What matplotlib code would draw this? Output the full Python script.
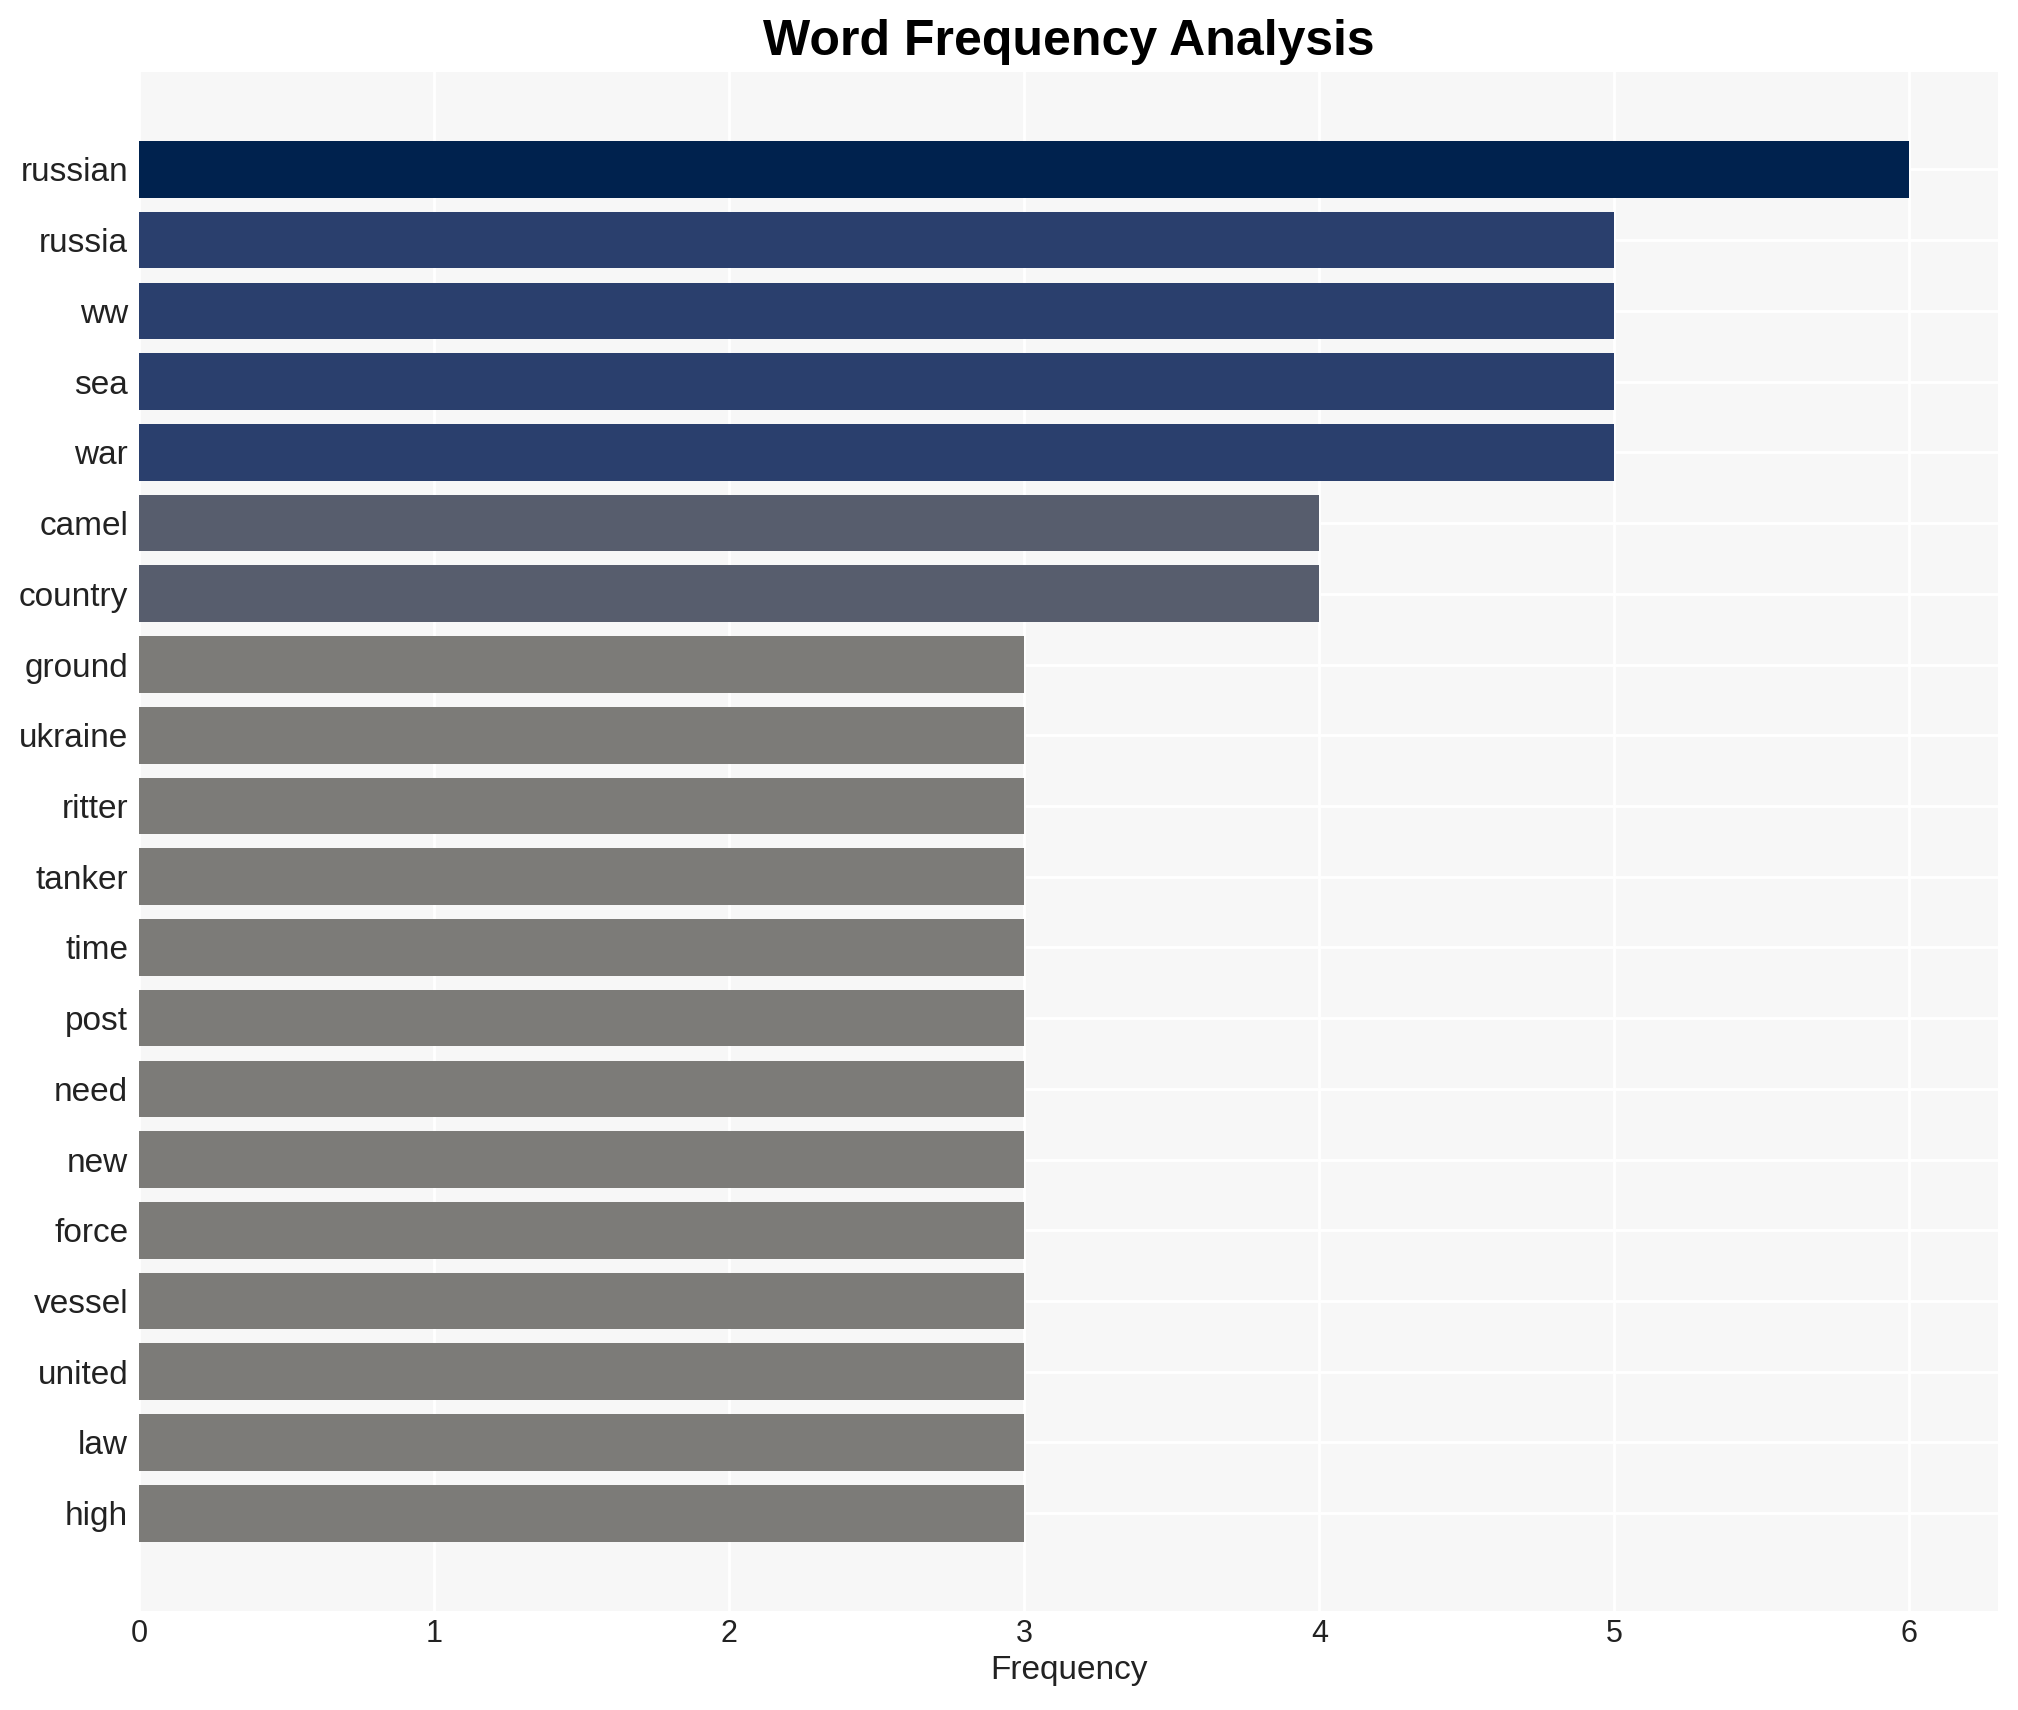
import matplotlib as mpl
mpl.use('agg')
import matplotlib.pyplot as plt
import numpy as np

plt.rc('font', family=['Liberation Sans', 'DejaVu Sans'])

words = ["russian", "russia", "ww", "sea", "war", "camel", "country", "ground",
         "ukraine", "ritter", "tanker", "time", "post", "need", "new", "force",
         "vessel", "united", "law", "high"]
counts = [6, 5, 5, 5, 5, 4, 4, 3, 3, 3, 3, 3, 3, 3, 3, 3, 3, 3, 3, 3]

fig = plt.figure(figsize=(10.09, 8.55), dpi=200)
ax = fig.add_axes([0.069, 0.058, 0.921, 0.900])
ax.set_facecolor('#f7f7f7')

cmax = max(counts)
colors = [plt.cm.cividis_r(c / cmax) for c in counts]
y = np.arange(len(words))
ax.barh(y, counts, height=0.8, color=colors, zorder=2)

ax.set_yticks(y)
ax.set_yticklabels(words, fontsize=12, color='#222222')
ax.set_ylim(len(words) - 1 + 1.38, -1.38)
ax.set_xlim(0, cmax * 1.05)
ax.set_xticks(range(0, cmax + 1))
ax.tick_params(axis='x', labelsize=11, colors='#222222', length=0, pad=3)
ax.tick_params(axis='y', length=0, pad=4)
ax.grid(True, color='white', linewidth=1.0, zorder=0)
ax.set_axisbelow(True)
for s in ax.spines.values():
    s.set_visible(False)

ax.set_xlabel("Frequency", fontsize=12, color='#222222', labelpad=2)
ax.set_title("Word Frequency Analysis", fontsize=18, fontweight='bold', pad=6)

fig.savefig("out.png", dpi=200)
